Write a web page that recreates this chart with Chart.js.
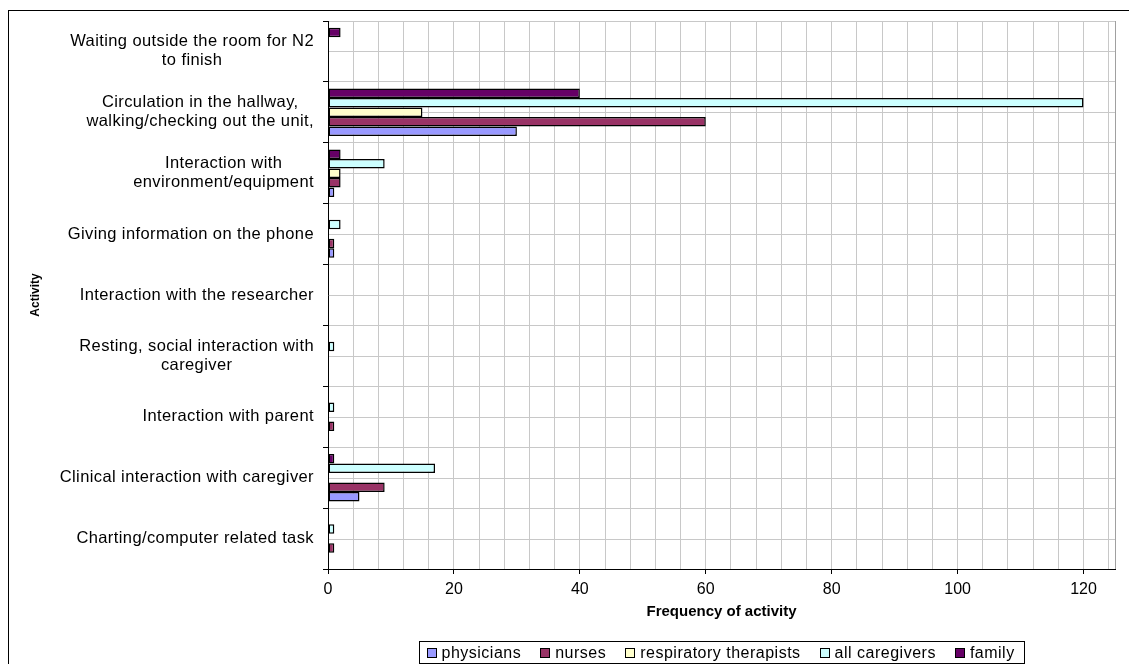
<!DOCTYPE html>
<html>
<head>
<meta charset="utf-8">
<script src="https://cdn.jsdelivr.net/npm/chart.js@4/dist/chart.umd.min.js"></script>
<style>
  html, body { margin: 0; padding: 0; background: #fff; }
  #wrap { width: 1129px; height: 664px; }
</style>
</head>
<body>
<div id="wrap"><canvas id="c" width="1129" height="664"></canvas></div>
<script>
// Activities, top to bottom
const activities = [
  ['Waiting outside the room for N2', 'to finish'],
  ['Circulation in the hallway,', 'walking/checking out the unit,'],
  ['Interaction with', 'environment/equipment'],
  ['Giving information on the phone'],
  ['Interaction with the researcher'],
  ['Resting, social interaction with', 'caregiver'],
  ['Interaction with parent'],
  ['Clinical interaction with caregiver'],
  ['Charting/computer related task']
];

// Frequency of each activity per group
const physicians            = [0, 30, 1, 1, 0, 0, 0, 5, 0];
const nurses                = [0, 60, 2, 1, 0, 0, 1, 9, 1];
const respiratoryTherapists = [0, 15, 2, 0, 0, 0, 0, 0, 0];
const allCaregivers         = [0, 120, 9, 2, 0, 1, 1, 17, 1];
const family                = [2, 40, 2, 0, 0, 0, 0, 1, 0];

const seriesNames  = ['physicians', 'nurses', 'respiratory therapists', 'all caregivers', 'family'];
const seriesValues = [physicians, nurses, respiratoryTherapists, allCaregivers, family];
const seriesColors = ['#9999FF', '#993366', '#FFFFCC', '#CCFFFF', '#660066'];

// Frequency axis
const xMax = 125;
const xGridStep = 4;
const xLabelStep = 20;
const xLabelMax = 120;

const FONT = 'Liberation Sans, Arial, sans-serif';

// Bars inside a group run from the last series (top) to the first (bottom)
const datasets = seriesNames.map((name, i) => ({
  label: name,
  data: seriesValues[i],
  backgroundColor: seriesColors[i],
  borderColor: '#000000',
  borderWidth: 1.5,
  borderSkipped: false,
  barPercentage: 1,
  categoryPercentage: 0.78
})).reverse();

const decorations = {
  id: 'decorations',
  beforeDraw(chart) {
    const ctx = chart.ctx;
    ctx.save();
    ctx.fillStyle = '#ffffff';
    ctx.fillRect(0, 0, chart.width, chart.height);
    ctx.strokeStyle = '#000000';
    ctx.lineWidth = 1;
    ctx.strokeRect(8.5, 10.5, chart.width + 40, chart.height + 40);
    ctx.restore();
  },
  beforeDatasetsDraw(chart) {
    // light rules through the middle of each activity band
    const ctx = chart.ctx, y = chart.scales.y, a = chart.chartArea;
    ctx.save();
    ctx.strokeStyle = '#c8c8c8';
    ctx.lineWidth = 1;
    ctx.beginPath();
    for (let i = 0; i < y.ticks.length; i++) {
      const p = Math.round(y.getPixelForValue(i)) + 0.5;
      ctx.moveTo(a.left + 1, p);
      ctx.lineTo(a.right, p);
    }
    ctx.stroke();
    ctx.restore();
  },
  afterDraw(chart) {
    const ctx = chart.ctx, y = chart.scales.y, a = chart.chartArea;
    ctx.save();
    ctx.fillStyle = '#000000';

    // activity labels: block right-aligned, lines centred on each other
    ctx.font = '16.5px ' + FONT;
    ctx.letterSpacing = '0.4px';
    ctx.textAlign = 'center';
    ctx.textBaseline = 'middle';
    const lineH = 19;
    const labelRight = a.left - 14;
    activities.forEach((lines, i) => {
      const cy = y.getPixelForValue(i);
      const w = Math.max(...lines.map(t => ctx.measureText(t).width));
      const cx = labelRight - w / 2;
      const y0 = cy - (lines.length - 1) * lineH / 2;
      lines.forEach((t, k) => ctx.fillText(t, cx, y0 + k * lineH));
    });

    // axis titles
    ctx.letterSpacing = '0px';
    ctx.font = 'bold 15px ' + FONT;
    ctx.fillText('Frequency of activity', (a.left + a.right) / 2, 612);
    ctx.save();
    ctx.translate(36, (a.top + a.bottom) / 2);
    ctx.rotate(-Math.PI / 2);
    ctx.font = 'bold 12px ' + FONT;
    ctx.fillText('Activity', 0, 0);
    ctx.restore();

    // legend, in series order, framed
    ctx.font = '16px ' + FONT;
    ctx.letterSpacing = '0.5px';
    ctx.textAlign = 'left';
    const sq = 9, gapAfterSq = 6, gapItems = 19, padL = 7, padR = 10;
    const widths = seriesNames.map(n => ctx.measureText(n).width);
    const total = padL + widths.reduce((s, w) => s + sq + gapAfterSq + w, 0) + gapItems * (seriesNames.length - 1) + padR;
    const boxL = Math.round((a.left + a.right) / 2 - total / 2) + 0.5;
    const boxT = 641.5, boxH = 22, cyL = boxT + boxH / 2;
    ctx.strokeStyle = '#000000';
    ctx.lineWidth = 1;
    ctx.strokeRect(boxL, boxT, Math.round(total), boxH);
    let x = boxL + padL;
    seriesNames.forEach((n, i) => {
      const sy = Math.round(cyL - sq / 2) + 0.5;
      ctx.fillStyle = seriesColors[i];
      ctx.fillRect(Math.round(x) + 0.5, sy, sq, sq);
      ctx.strokeRect(Math.round(x) + 0.5, sy, sq, sq);
      ctx.fillStyle = '#000000';
      ctx.fillText(n, x + sq + gapAfterSq, cyL + 1);
      x += sq + gapAfterSq + widths[i] + gapItems;
    });
    ctx.restore();
  }
};

new Chart(document.getElementById('c'), {
  type: 'bar',
  data: { labels: activities, datasets },
  options: {
    indexAxis: 'y',
    responsive: false,
    animation: false,
    events: [],
    layout: { padding: { top: 21, right: 14, bottom: 0, left: 0 } },
    plugins: { legend: { display: false }, tooltip: { enabled: false } },
    scales: {
      x: {
        type: 'linear',
        min: 0,
        max: xMax,
        afterBuildTicks: (s) => {
          const t = [];
          for (let v = 0; v <= xMax; v += xGridStep) t.push({ value: v });
          if (t[t.length - 1].value !== xMax) t.push({ value: xMax });
          s.ticks = t;
        },
        afterFit: (s) => { s.height = 95; },
        grid: {
          color: (c) => (c.tick && c.tick.value === xMax) ? '#a0a0a0' : '#c8c8c8',
          lineWidth: 1,
          tickLength: 5,
          tickColor: (c) => (c.tick && c.tick.value % xLabelStep === 0 && c.tick.value <= xLabelMax) ? '#000000' : 'rgba(0,0,0,0)'
        },
        border: { color: '#000000', width: 1 },
        ticks: {
          autoSkip: false,
          maxRotation: 0,
          padding: 6,
          color: '#000000',
          font: { family: FONT, size: 16 },
          callback: (v) => (v % xLabelStep === 0 && v <= xLabelMax) ? String(v) : ''
        }
      },
      y: {
        type: 'category',
        afterFit: (s) => { s.width = 328; },
        grid: { color: '#c8c8c8', lineWidth: 1, tickLength: 5, tickColor: '#000000', offset: true },
        border: { color: '#000000', width: 1 },
        ticks: { display: false }
      }
    }
  },
  plugins: [decorations]
});
</script>
</body>
</html>
